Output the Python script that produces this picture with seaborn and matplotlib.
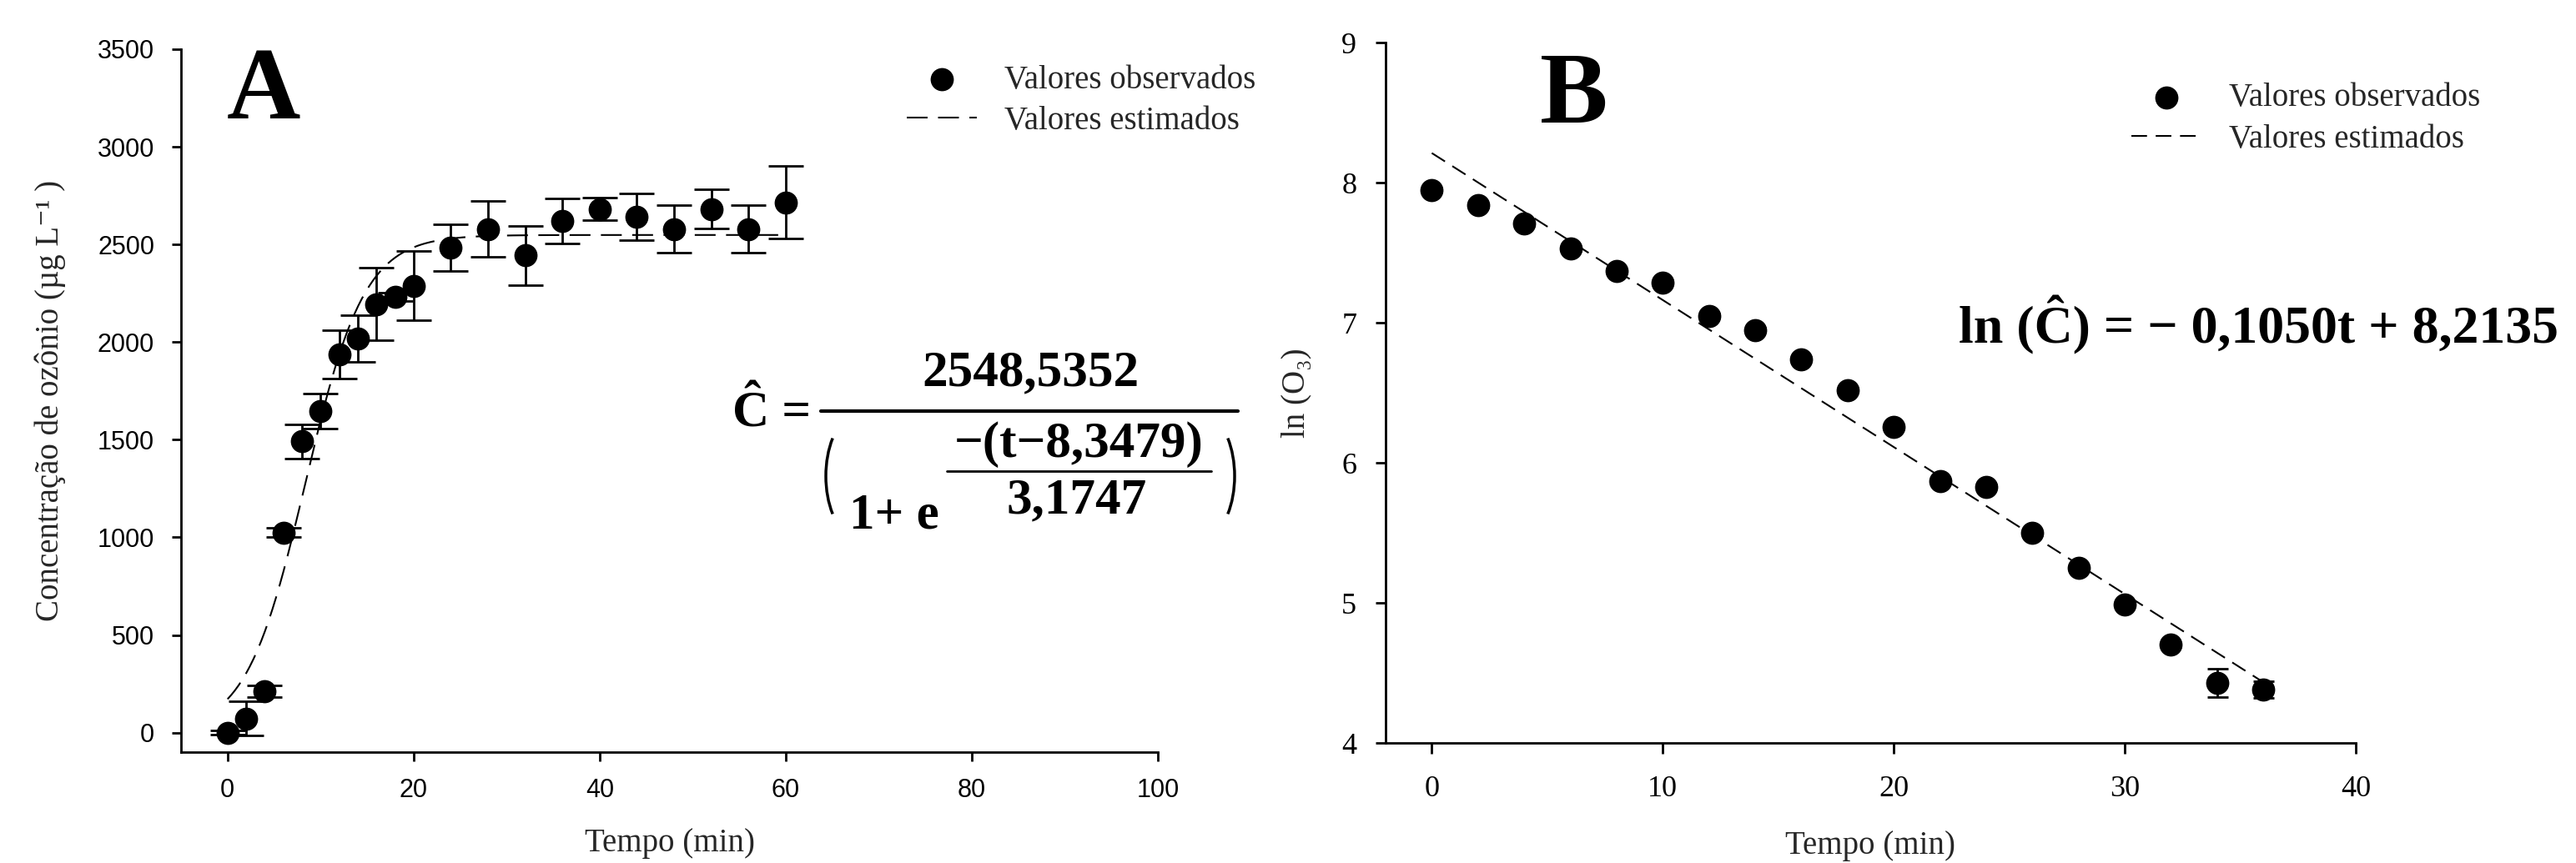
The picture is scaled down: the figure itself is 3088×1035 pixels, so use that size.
import numpy as np
import matplotlib
matplotlib.use("Agg")
import matplotlib.pyplot as plt
from matplotlib.lines import Line2D
from matplotlib.patches import Arc
import seaborn as sns

# --- data ------------------------------------------------------------------
# panel A: ozone concentration (ug/L) vs time (min)
tempo_a = [0, 2, 4, 6, 8, 10, 12, 14, 16, 18, 20, 24, 28, 32, 36, 40, 44, 48, 52, 56, 60]
conc_a = [0, 72, 212, 1025, 1491, 1647, 1936, 2018, 2195, 2231, 2288,
          2484, 2579, 2444, 2620, 2682, 2641, 2579, 2681, 2579, 2715]
erro_a = [10, 87, 30, 25, 88, 88, 123, 121, 187, 20, 178,
          121, 143, 151, 115, 57, 121, 121, 101, 121, 186]
# logistic fit printed on the chart
A_MAX, T_MID, ESCALA = 2548.5352, 8.3479, 3.1747

# panel B: ln(O3) vs time (min)
tempo_b = [0, 2, 4, 6, 8, 10, 12, 14, 16, 18, 20, 22, 24, 26, 28, 30, 32, 34, 36]
ln_b = [7.95, 7.84, 7.71, 7.53, 7.37, 7.29, 7.05, 6.95, 6.74, 6.52, 6.26,
        5.87, 5.83, 5.50, 5.25, 4.99, 4.70, 4.43, 4.38]
erro_b = [0.015, 0.015, 0.015, 0.015, 0.015, 0.015, 0.015, 0.015, 0.015, 0.015, 0.015,
          0.015, 0.015, 0.015, 0.015, 0.015, 0.015, 0.10, 0.06]
# linear fit printed on the chart
INCL, INTERC = -0.1050, 8.2135
tempo_fit_b = [0, 36]

W, H = 3088, 1035

sns.set_style("ticks")
plt.rcParams["font.family"] = ["Liberation Serif", "DejaVu Serif"]
plt.rcParams["axes.linewidth"] = 2
plt.rcParams["xtick.color"] = "black"
plt.rcParams["ytick.color"] = "black"
plt.rcParams["axes.edgecolor"] = "black"

fig = plt.figure(figsize=(W / 100, H / 100), dpi=100)
axA = fig.add_axes([217 / W, 1 - 902 / H, (1388 - 217) / W, (902 - 59) / H])
axB = fig.add_axes([1661 / W, 1 - 891 / H, (2824 - 1661) / W, (891 - 51.5) / H])


def draw_panel(ax, t, y, err, t_fit, y_fit, dash, cap):
    ax.errorbar(t, y, yerr=err, fmt="none", ecolor="black", elinewidth=2,
                capsize=cap, capthick=2, zorder=2)
    sns.scatterplot(x=t, y=y, ax=ax, s=400, color="black", edgecolor="black",
                    linewidth=0, zorder=3, label="Valores observados")
    sns.lineplot(x=t_fit, y=y_fit, ax=ax, color="black", lw=1.5,
                 linestyle=(0, dash), zorder=1, label="Valores estimados")
    sns.despine(ax=ax)


# --- panel A ---------------------------------------------------------------
t_fit_a = np.linspace(0, 60, 300)
y_fit_a = A_MAX / (1 + np.exp(-(t_fit_a - T_MID) / ESCALA))
draw_panel(axA, tempo_a, conc_a, erro_a, t_fit_a, y_fit_a, (12, 6), 15)
axA.set_xlim(-5, 100)
axA.set_ylim(-100, 3500)
axA.set_xticks(range(0, 101, 20))
axA.set_yticks(range(0, 3501, 500))
axA.tick_params(axis="both", length=8, width=2, labelsize=22,
                labelfontfamily="Liberation Sans")
axA.tick_params(axis="y", pad=15)
axA.tick_params(axis="x", pad=14)
axA.set_xlabel("Tempo (min)", fontsize=28)
axA.xaxis.label.set_va("baseline")
axA.xaxis.set_label_coords(0.5, -0.141)
axA.set_ylabel("Concentração de ozônio (µg L⁻¹ )", fontsize=28)
axA.yaxis.label.set_va("center")
axA.yaxis.set_label_coords(-0.134, 0.5)

# --- panel B ---------------------------------------------------------------
y_fit_b = [INTERC + INCL * v for v in tempo_fit_b]
draw_panel(axB, tempo_b, ln_b, erro_b, tempo_fit_b, y_fit_b, (9, 5), 9)
axB.set_xlim(-2, 40)
axB.set_ylim(4, 9)
axB.set_xticks(range(0, 41, 10))
axB.set_yticks(range(4, 10))
axB.tick_params(axis="both", length=9, width=2, labelsize=26)
axB.tick_params(axis="y", pad=16)
axB.tick_params(axis="x", pad=19)
axB.set_xlabel("Tempo (min)", fontsize=28)
axB.xaxis.label.set_va("baseline")
axB.xaxis.set_label_coords(0.5, -0.158)
axB.set_ylabel("ln (O₃)", fontsize=28)
axB.yaxis.label.set_va("center")
axB.yaxis.set_label_coords(-0.0925, 0.5)

# legends
for ax, anchor in [(axA, (0.743, 0.978)), (axB, (0.769, 0.943))]:
    handles, labels = ax.get_legend_handles_labels()
    order = [labels.index("Valores observados"), labels.index("Valores estimados")]
    ax.legend([handles[i] for i in order], [labels[i] for i in order],
              loc="upper left", bbox_to_anchor=anchor, frameon=False,
              fontsize=28, borderpad=0, borderaxespad=0, handlelength=2.15,
              handletextpad=0.85, labelspacing=0.32)


# --- annotations (positions in output pixels, origin top-left) -------------
def fx(x):
    return x / W


def fy(y):
    return 1 - y / H


bold = dict(fontweight="bold", color="black")
fig.text(fx(316), fy(142), "A", fontsize=88, ha="center", va="baseline", **bold)
fig.text(fx(1887), fy(147), "B", fontsize=88, ha="center", va="baseline", **bold)

# logistic equation
fig.text(fx(1235), fy(462), "2548,5352", fontsize=44, ha="center", va="baseline", **bold)
fig.text(fx(972), fy(512), "Ĉ =", fontsize=44, ha="right", va="baseline", **bold)
fig.text(fx(1018), fy(633), "1+ e", fontsize=44, ha="left", va="baseline", **bold)
fig.text(fx(1293), fy(548), "−(t−8,3479)", fontsize=44, ha="center", va="baseline", **bold)
fig.text(fx(1291), fy(615), "3,1747", fontsize=44, ha="center", va="baseline", **bold)
tr = fig.dpi_scale_trans
fig.add_artist(Line2D([984 / 100, 1484 / 100], [(H - 493) / 100] * 2,
                      transform=tr, color="black", lw=3))
fig.add_artist(Line2D([1135 / 100, 1452 / 100], [(H - 565) / 100] * 2,
                      transform=tr, color="black", lw=2))
fig.add_artist(Arc((1030 / 100, (H - 571) / 100), 0.8, 1.5, theta1=125, theta2=235,
                   transform=tr, color="black", lw=2.5))
fig.add_artist(Arc((1440 / 100, (H - 571) / 100), 0.8, 1.5, theta1=-55, theta2=55,
                   transform=tr, color="black", lw=2.5))

# linear equation
fig.text(fx(2348), fy(411), "ln (Ĉ) = − 0,1050t + 8,2135", fontsize=46,
         ha="left", va="baseline", **bold)

fig.savefig("out.png", dpi=100)
